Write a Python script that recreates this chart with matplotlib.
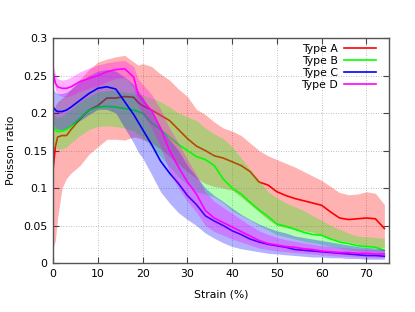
import matplotlib
matplotlib.use("Agg")
import matplotlib.pyplot as plt

# strain grid (%)
strain = [0, 0.5, 1, 2, 3, 4, 6, 8, 10, 12, 14, 16, 18, 19, 20, 22, 24, 26, 28, 30,
          32, 34, 36, 38, 40, 42, 44, 46, 48, 50, 52, 54, 56, 58, 60, 62, 64, 66, 68,
          70, 72, 74]

# Type A
a_mean = [0.125, 0.155, 0.168, 0.170, 0.170, 0.178, 0.192, 0.204, 0.210, 0.220, 0.220,
          0.222, 0.221, 0.214, 0.210, 0.204, 0.197, 0.190, 0.178, 0.166, 0.156, 0.150,
          0.143, 0.140, 0.135, 0.130, 0.122, 0.108, 0.104, 0.095, 0.090, 0.086, 0.083,
          0.080, 0.077, 0.068, 0.060, 0.058, 0.059, 0.060, 0.059, 0.046]
a_up = [0.200, 0.210, 0.215, 0.220, 0.225, 0.232, 0.245, 0.258, 0.268, 0.272, 0.275,
        0.277, 0.268, 0.264, 0.266, 0.262, 0.252, 0.244, 0.232, 0.222, 0.205, 0.198,
        0.188, 0.180, 0.176, 0.170, 0.160, 0.150, 0.143, 0.138, 0.133, 0.128, 0.122,
        0.116, 0.110, 0.102, 0.094, 0.091, 0.092, 0.095, 0.093, 0.078]
a_lo = [0.020, 0.030, 0.060, 0.100, 0.113, 0.120, 0.130, 0.145, 0.155, 0.165, 0.165,
        0.164, 0.168, 0.167, 0.165, 0.160, 0.152, 0.142, 0.132, 0.122, 0.113, 0.106,
        0.102, 0.100, 0.097, 0.088, 0.078, 0.068, 0.058, 0.050, 0.047, 0.045, 0.043,
        0.041, 0.036, 0.032, 0.030, 0.028, 0.025, 0.023, 0.021, 0.020]

# Type B
b_mean = [0.182, 0.178, 0.175, 0.176, 0.178, 0.182, 0.193, 0.204, 0.208, 0.209, 0.208,
          0.206, 0.204, 0.202, 0.200, 0.187, 0.178, 0.168, 0.158, 0.150, 0.142, 0.138,
          0.130, 0.112, 0.100, 0.092, 0.081, 0.071, 0.062, 0.052, 0.049, 0.045, 0.041,
          0.038, 0.037, 0.032, 0.028, 0.026, 0.023, 0.022, 0.021, 0.017]
b_up = [0.200, 0.196, 0.194, 0.196, 0.200, 0.205, 0.215, 0.222, 0.228, 0.230, 0.230,
        0.228, 0.226, 0.225, 0.224, 0.220, 0.215, 0.208, 0.200, 0.195, 0.190, 0.180,
        0.172, 0.166, 0.155, 0.140, 0.125, 0.110, 0.095, 0.087, 0.080, 0.075, 0.070,
        0.063, 0.057, 0.050, 0.045, 0.040, 0.036, 0.035, 0.034, 0.033]
b_lo = [0.155, 0.155, 0.152, 0.152, 0.155, 0.160, 0.170, 0.178, 0.182, 0.183, 0.182,
        0.180, 0.176, 0.172, 0.168, 0.155, 0.142, 0.128, 0.115, 0.105, 0.095, 0.092,
        0.088, 0.080, 0.070, 0.063, 0.057, 0.050, 0.044, 0.038, 0.035, 0.032, 0.029,
        0.027, 0.025, 0.022, 0.020, 0.018, 0.016, 0.015, 0.014, 0.012]

# Type C
c_mean = [0.208, 0.204, 0.202, 0.202, 0.204, 0.208, 0.217, 0.226, 0.233, 0.235, 0.232,
          0.215, 0.198, 0.188, 0.178, 0.158, 0.136, 0.120, 0.106, 0.090, 0.078, 0.063,
          0.056, 0.050, 0.043, 0.038, 0.032, 0.028, 0.025, 0.023, 0.021, 0.018, 0.017,
          0.016, 0.015, 0.014, 0.013, 0.012, 0.011, 0.010, 0.010, 0.009]
c_up = [0.232, 0.228, 0.226, 0.226, 0.228, 0.232, 0.242, 0.250, 0.256, 0.258, 0.256,
        0.248, 0.238, 0.230, 0.222, 0.200, 0.180, 0.165, 0.150, 0.130, 0.115, 0.100,
        0.090, 0.082, 0.073, 0.065, 0.058, 0.052, 0.047, 0.043, 0.040, 0.036, 0.034,
        0.032, 0.030, 0.028, 0.026, 0.024, 0.022, 0.021, 0.020, 0.018]
c_lo = [0.185, 0.180, 0.178, 0.178, 0.180, 0.184, 0.190, 0.198, 0.205, 0.205, 0.200,
        0.180, 0.160, 0.148, 0.140, 0.118, 0.095, 0.080, 0.067, 0.058, 0.050, 0.040,
        0.033, 0.027, 0.022, 0.019, 0.017, 0.015, 0.013, 0.012, 0.011, 0.010, 0.009,
        0.008, 0.008, 0.007, 0.007, 0.006, 0.006, 0.005, 0.005, 0.005]

# Type D
d_mean = [0.255, 0.240, 0.235, 0.233, 0.233, 0.235, 0.242, 0.246, 0.250, 0.255, 0.258,
          0.259, 0.248, 0.225, 0.217, 0.203, 0.180, 0.150, 0.128, 0.108, 0.092, 0.070,
          0.060, 0.054, 0.048, 0.042, 0.036, 0.030, 0.026, 0.024, 0.022, 0.021, 0.019,
          0.018, 0.016, 0.015, 0.014, 0.014, 0.013, 0.013, 0.012, 0.012]
d_up = [0.265, 0.252, 0.246, 0.244, 0.245, 0.248, 0.255, 0.260, 0.264, 0.267, 0.269,
        0.270, 0.262, 0.245, 0.238, 0.225, 0.205, 0.180, 0.160, 0.138, 0.118, 0.095,
        0.082, 0.074, 0.066, 0.058, 0.050, 0.043, 0.038, 0.034, 0.031, 0.029, 0.027,
        0.025, 0.023, 0.022, 0.021, 0.020, 0.019, 0.019, 0.018, 0.018]
d_lo = [0.245, 0.230, 0.225, 0.222, 0.222, 0.223, 0.229, 0.233, 0.236, 0.242, 0.246,
        0.247, 0.234, 0.210, 0.198, 0.180, 0.155, 0.122, 0.100, 0.082, 0.068, 0.050,
        0.042, 0.037, 0.032, 0.028, 0.024, 0.020, 0.018, 0.016, 0.015, 0.014, 0.013,
        0.012, 0.011, 0.010, 0.009, 0.009, 0.008, 0.008, 0.007, 0.007]

labels = ["Type A", "Type B", "Type C", "Type D"]
colors = ["#ff0000", "#00ff00", "#0000ff", "#ff00ff"]
means = [a_mean, b_mean, c_mean, d_mean]
uppers = [a_up, b_up, c_up, d_up]
lowers = [a_lo, b_lo, c_lo, d_lo]

fig = plt.figure(figsize=(4.15, 3.12), dpi=100)
ax = fig.add_axes([0.128, 0.157, 0.809, 0.721])

# fill then line, series by series, so later bands tint earlier lines
for i, (lab, col, m, u, l) in enumerate(zip(labels, colors, means, uppers, lowers)):
    ax.fill_between(strain, l, u, color=col, alpha=0.3, linewidth=0, zorder=2 * i + 1)
    ax.plot(strain, m, color=col, lw=1.2, label=lab, zorder=2 * i + 2)

ax.set_xlim(0, 75)
ax.set_ylim(0, 0.3)
ax.set_xticks([0, 10, 20, 30, 40, 50, 60, 70])
ax.set_yticks([0, 0.05, 0.1, 0.15, 0.2, 0.25, 0.3])
ax.set_yticklabels(["0", "0.05", "0.1", "0.15", "0.2", "0.25", "0.3"])
ax.tick_params(direction="in", top=True, right=True, length=4, width=0.8,
               labelsize=7.8, colors="#444444", labelcolor="black", pad=4)
ax.grid(True, linestyle=(0, (1, 2)), color="#aaaaaa", linewidth=0.6, zorder=0)
ax.set_axisbelow(True)
for s in ax.spines.values():
    s.set_color("#555555")
    s.set_linewidth(1.0)
    s.set_zorder(20)

ax.set_xlabel("Strain (%)", fontsize=7.8, labelpad=8)
ax.set_ylabel("Poisson ratio", fontsize=7.8, labelpad=5)

leg = ax.legend(loc="upper right", bbox_to_anchor=(0.974, 0.995), frameon=False,
                markerfirst=False, fontsize=7.8, handlelength=2.9,
                labelspacing=0.2, handletextpad=0.6, borderaxespad=0)
leg.set_zorder(30)

fig.savefig("out.png", dpi=100)
